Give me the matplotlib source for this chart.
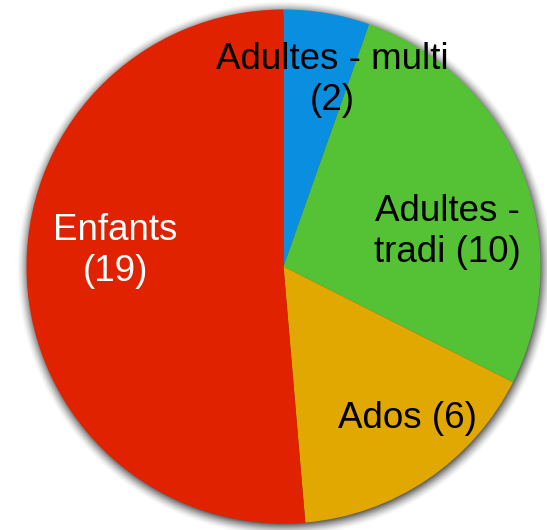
import numpy as np
import matplotlib
matplotlib.use("Agg")
import matplotlib.pyplot as plt

categories = ["Adultes - multi", "Adultes - tradi", "Ados", "Enfants"]
values = [2, 10, 6, 19]
colors = ["#0a8fe0", "#55c135", "#e0a800", "#e02200"]
label_texts = ["Adultes - multi\n(2)", "Adultes -\ntradi (10)", "Ados (6)", "Enfants\n(19)"]
label_colors = ["black", "black", "black", "white"]

W, H = 547, 530
fig = plt.figure(figsize=(W / 100, H / 100), dpi=100)
ax = fig.add_axes([0, 0, 1, 1])
ax.set_xlim(0, W)
ax.set_ylim(0, H)

cx, cy, r = 283.5, 263.5, 257

# soft shadow halo around the pie (slightly offset downward)
yy, xx = np.mgrid[0:H, 0:W]
d = np.hypot(xx + 0.5 - (cx + 1), (H - yy - 0.5) - (cy - 2))
t = np.clip((d - (r - 3)) / 14.0, 0, 1)
alpha = (1 - t) ** 1.6 * 0.9
shadow = np.zeros((H, W, 4))
shadow[..., :3] = 0.2
shadow[..., 3] = alpha
ax.imshow(shadow, extent=(0, W, 0, H), origin="upper", zorder=0, interpolation="bilinear")

wedges, _ = ax.pie(values, colors=colors, startangle=90, counterclock=False,
                   center=(cx, cy), radius=r, frame=True,
                   wedgeprops=dict(linewidth=0))
for w in wedges:
    w.set_zorder(1)
ax.set_xlim(0, W)
ax.set_ylim(0, H)
ax.set_aspect("auto")
ax.axis("off")

label_pos = [(332, H - 80), (447, H - 232), (407, H - 418), (115, H - 251)]
for txt, (x, y), c in zip(label_texts, label_pos, label_colors):
    ax.text(x, y, txt, ha="center", va="center", color=c, fontsize=26.5,
            family="Liberation Sans", linespacing=1.22, zorder=3)

fig.savefig("out.png", dpi=100, facecolor="white")
